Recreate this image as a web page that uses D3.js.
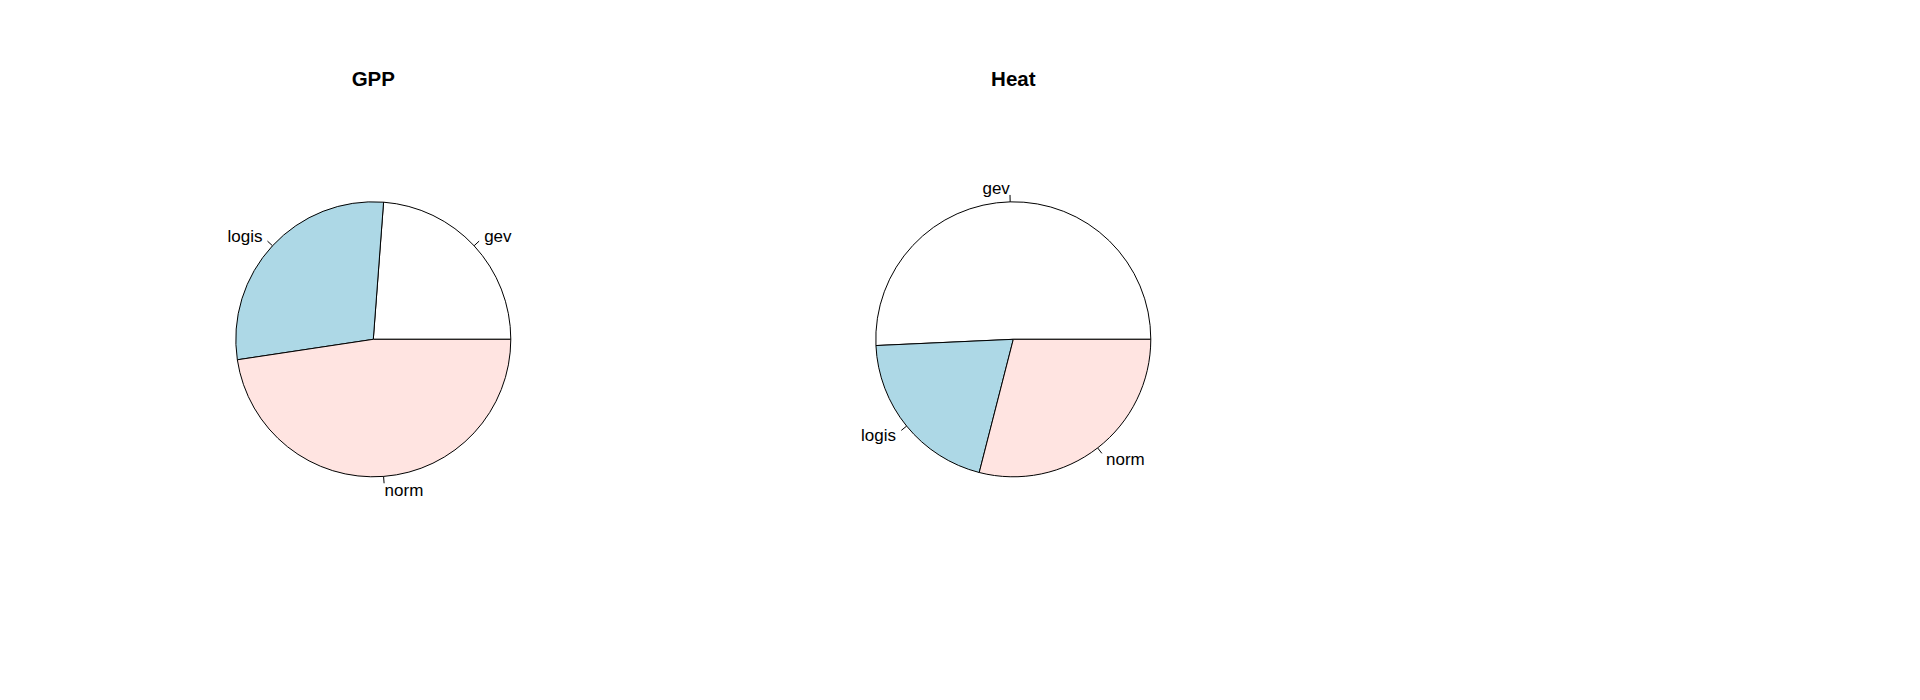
<!DOCTYPE html>
<html>
<head>
<meta charset="utf-8">
<script src="https://cdn.jsdelivr.net/npm/d3@7"></script>
<style>
  html, body { margin: 0; padding: 0; background: #ffffff; }
  svg { display: block; }
  text { font-family: "Liberation Sans", Arial, sans-serif; fill: #000; }
</style>
</head>
<body>
<svg id="chart" width="1920" height="700"></svg>
<script>
// Data
const categories = ["gev", "logis", "norm"];
const gppValues = [5, 6, 10];
const heatValues = [35, 14, 20];
const panelTitles = ["GPP", "Heat"];
const sliceColors = ["#FFFFFF", "#ADD8E6", "#FFE4E1"];

const panels = [
  { title: panelTitles[0], values: gppValues },
  { title: panelTitles[1], values: heatValues }
];

const W = 1920, H = 700;
const panelWidth = W / 3;
const cxOffset = 373.3, cy = 339.3, radius = 137.5;
const titleY = 86;

const svg = d3.select("#chart");
const color = d3.scaleOrdinal().domain(categories).range(sliceColors);

// R-style pie: counter-clockwise starting at 3 o'clock
const pie = d3.pie()
  .sort(null)
  .value(d => d.value)
  .startAngle(Math.PI / 2)
  .endAngle(Math.PI / 2 - 2 * Math.PI);

const arc = d3.arc().innerRadius(0).outerRadius(radius);

panels.forEach((p, i) => {
  const cx = i * panelWidth + cxOffset;
  const g = svg.append("g").attr("transform", `translate(${cx},${cy})`);
  const data = categories.map((c, k) => ({ cat: c, value: p.values[k] }));
  const arcs = pie(data);

  g.selectAll("path.slice")
    .data(arcs)
    .join("path")
    .attr("class", "slice")
    .attr("d", arc)
    .attr("fill", d => color(d.data.cat))
    .attr("stroke", "#000")
    .attr("stroke-width", 1);

  arcs.forEach(a => {
    const m = (a.startAngle + a.endAngle) / 2;
    const ux = Math.sin(m), uy = -Math.cos(m);
    g.append("line")
      .attr("x1", ux * radius).attr("y1", uy * radius)
      .attr("x2", ux * radius * 1.05).attr("y2", uy * radius * 1.05)
      .attr("stroke", "#000").attr("stroke-width", 1);
    g.append("text")
      .attr("x", ux * radius * 1.1)
      .attr("y", uy * radius * 1.1)
      .attr("dy", "0.35em")
      .attr("text-anchor", ux < 0 ? "end" : "start")
      .style("font-size", "17px")
      .text(a.data.cat);
  });

  svg.append("text")
    .attr("x", cx)
    .attr("y", titleY)
    .attr("text-anchor", "middle")
    .style("font-size", "20.5px")
    .style("font-weight", "bold")
    .text(p.title);
});
</script>
</body>
</html>
